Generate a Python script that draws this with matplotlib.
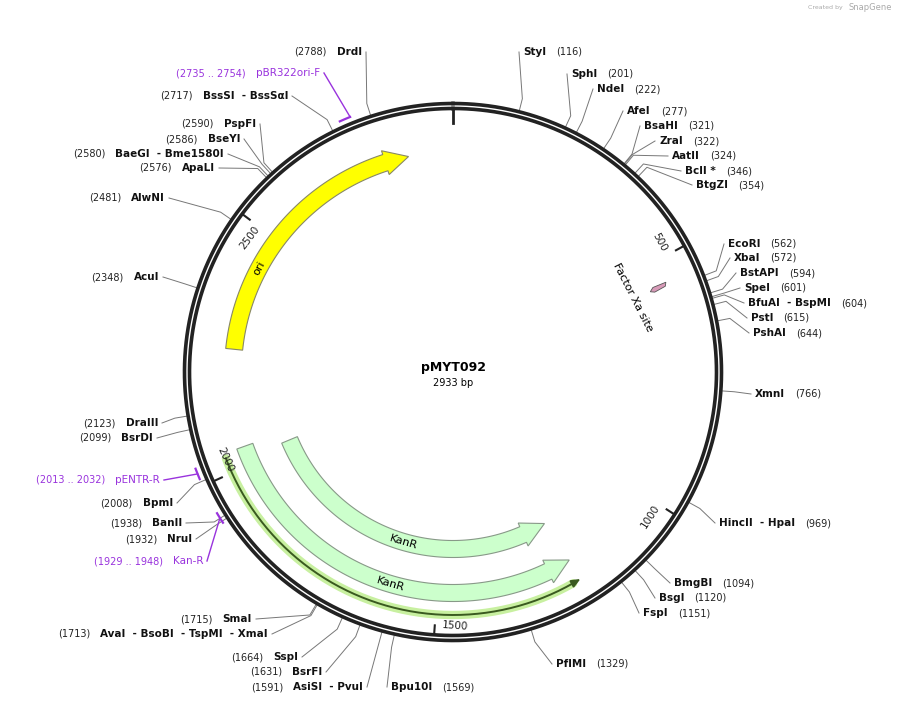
import numpy as np
import matplotlib
matplotlib.use("Agg")
import matplotlib.pyplot as plt
from matplotlib.patches import Polygon

TOTAL = 2933
name = "pMYT092"

# enzyme sites (name, position)
site_names = ["StyI","SphI","NdeI","AfeI","BsaHI","ZraI","AatII","BclI *","BtgZI",
              "EcoRI","XbaI","BstAPI","SpeI","BfuAI  - BspMI","PstI","PshAI","XmnI",
              "HincII  - HpaI","BmgBI","BsgI","FspI","PflMI","Bpu10I",
              "AsiSI  - PvuI","BsrFI","SspI","AvaI  - BsoBI  - TspMI  - XmaI","SmaI",
              "NruI","BanII","BpmI","BsrDI","DraIII","AcuI","AlwNI","ApaLI",
              "BaeGI  - Bme1580I","BseYI","PspFI","BssSI  - BssS\u03b1I","DrdI"]
site_pos = [116,201,222,277,321,322,324,346,354,562,572,594,601,604,615,644,766,
            969,1094,1120,1151,1329,1569,
            1591,1631,1664,1713,1715,1932,1938,2008,2099,2123,2348,2481,2576,
            2580,2586,2590,2717,2788]
# label layout (anchor x, y); right side: text start, left side: text end
label_xy = [(523,52),(571,74),(597,89),(627,111),(644,126),(659,141),(672,156),(685,171),(696,185),
            (728,244),(734,258),(740,273),(744,288),(748,303),(751,318),(753,333),(755,394),
            (719,523),(674,583),(659,598),(643,613),(556,664),(391,687),
            (363,687),(322,672),(298,657),(268,634),(252,619),
            (192,539),(182,523),(173,503),(153,438),(158,423),(159,277),(165,198),(215,168),
            (224,154),(240,139),(256,124),(288,96),(362,52)]

primer_names = ["pBR322ori-F","pENTR-R","Kan-R"]
primer_start = [2735,2013,1929]
primer_end = [2754,2032,1948]
primer_xy = [(320,73),(160,480),(203,561)]

ticks = [500,1000,1500,2000,2500]

CX, CY, R = 453, 372, 266

fig = plt.figure(figsize=(9.05,7.05), dpi=100)
ax = fig.add_axes([0,0,1,1])
ax.set_xlim(0,905); ax.set_ylim(705,0); ax.axis("off")

def ang(p):
    return 2*np.pi*p/TOTAL
def pt(p, r):
    a = ang(p)
    return CX + r*np.sin(a), CY - r*np.cos(a)

t = np.linspace(0, 2*np.pi, 720)
for rr in (R+2.5, R-2.5):
    ax.plot(CX+rr*np.sin(t), CY-rr*np.cos(t), color="#222222", lw=2.6, zorder=3)
x1,y1 = pt(0,R-4); x2,y2 = pt(0,R-17)
ax.plot([x1,x2],[y1,y2],color="#222222",lw=2,zorder=3)
for tk in ticks:
    x1,y1 = pt(tk,R-4); x2,y2 = pt(tk,R-12)
    ax.plot([x1,x2],[y1,y2],color="#222222",lw=1.5,zorder=3)
    a = np.degrees(ang(tk))
    rot = -a
    if 90 < a < 270: rot += 180
    tx,ty = pt(tk-28 if tk in (500,2500) else tk+28, R-22)
    if tk == 1500: tx,ty = pt(tk-38,R-12)
    ax.text(tx,ty,str(tk),rotation=rot,ha="center",va="center",fontsize=7.5,color="#222222",zorder=4)

def arc_arrow(p1, p2, rmid, w, head, fc, ec, forward=True):
    hw = w/2
    hl_bp = head/(rmid)/(2*np.pi)*TOTAL
    if forward:
        b1, b2 = p1, p2-hl_bp
        s = np.linspace(b1,b2,100)
        outer = [pt(q,rmid+hw) for q in s]
        inner = [pt(q,rmid-hw) for q in s[::-1]]
        headp = [pt(b2,rmid+hw+4), pt(p2,rmid), pt(b2,rmid-hw-4)]
        poly = outer + headp + inner
    else:
        b1, b2 = p1+hl_bp, p2
        s = np.linspace(b1,b2,100)
        outer = [pt(q,rmid+hw) for q in s]
        inner = [pt(q,rmid-hw) for q in s[::-1]]
        headp = [pt(b1,rmid-hw-4), pt(p1,rmid), pt(b1,rmid+hw+4)]
        poly = outer + inner + headp
    ax.add_patch(Polygon(poly, closed=True, fc=fc, ec=ec, lw=0.8, zorder=2))

arc_arrow(2248, 2838, 220, 17, 24, "#ffff00", "#888866", True)
tx,ty = pt(2430, 220)
ax.text(tx,ty,"ori",rotation=-np.degrees(ang(2430)),ha="center",va="center",fontsize=8,zorder=4)
arc_arrow(1213, 2016, 177, 17, 24, "#ccffcc", "#889988", False)
arc_arrow(1208, 2040, 221, 17, 24, "#ccffcc", "#889988", False)
for rr in (177, 221):
    tx,ty = pt(1600, rr)
    a = np.degrees(ang(1600))
    ax.text(tx,ty,"KanR",rotation=-a+180,ha="center",va="center",fontsize=8,zorder=4)
s = np.linspace(1225, 2030, 200)
xs = [pt(q,243)[0] for q in s]; ys = [pt(q,243)[1] for q in s]
ax.plot(xs, ys, color="#c8f0a0", lw=6, solid_capstyle="round", zorder=2)
ax.plot(xs, ys, color="#3a5a20", lw=1.4, zorder=2)
hp = [pt(1228,246.5), pt(1212,243), pt(1228,239.5)]
ax.add_patch(Polygon(hp, closed=True, fc="#3a5a20", ec="#3a5a20", zorder=2))

# Factor Xa site (tiny feature drawn radially)
fx = 553
a = ang(fx)
u = np.array([np.sin(a), -np.cos(a)])      # radial
v = np.array([np.cos(a), np.sin(a)])       # tangential
c0 = np.array(pt(fx, 0))
def P(r, d):
    return tuple(c0 + r*u + d*v)
poly = [P(213, 0), P(217, -3), P(231, -3), P(229, 0.5), P(217, 2)]
ax.add_patch(Polygon(poly, closed=True, fc="#d89ab8", ec="#555555", lw=0.6, zorder=2))
ax.text(633, 297, "Factor Xa site", rotation=-63, ha="center", va="center", fontsize=8, zorder=4)

ax.text(CX, 368, name, ha="center", va="center", fontsize=9, fontweight="bold")
ax.text(CX, 383, f"{TOTAL} bp", ha="center", va="center", fontsize=7)
ax.text(843, 8, "Created by", ha="right", va="center", fontsize=4.5, color="#aaaaaa")
ax.text(848, 8, "SnapGene", ha="left", va="center", fontsize=6, color="#aaaaaa")

fig.canvas.draw()
rend = fig.canvas.get_renderer()
def width(txt):
    return txt.get_window_extent(renderer=rend).width

def leader(p, lx, ly, right, color="#777777", r0=R+4):
    x0,y0 = pt(p, r0)
    x1,y1 = pt(p, r0+12)
    ex = lx-4 if right else lx+4
    ax.plot([x0,x1,ex],[y0,y1,ly],color=color,lw=0.7,zorder=1)

for nm, p, (lx,ly) in zip(site_names, site_pos, label_xy):
    right = p <= 1569
    if right:
        t1 = ax.text(lx, ly, nm, ha="left", va="center", fontsize=7.5, fontweight="bold", color="#111111")
        w = width(t1)
        ax.text(lx+w+10, ly, f"({p})", ha="left", va="center", fontsize=7, color="#222222")
    else:
        t1 = ax.text(lx, ly, nm, ha="right", va="center", fontsize=7.5, fontweight="bold", color="#111111")
        w = width(t1)
        ax.text(lx-w-10, ly, f"({p})", ha="right", va="center", fontsize=7, color="#222222")
    leader(p, lx, ly, right)

PURPLE = "#9933dd"
for nm, a, b, (lx,ly) in zip(primer_names, primer_start, primer_end, primer_xy):
    s = np.linspace(a, b, 10)
    xs = [pt(q,R+9)[0] for q in s]; ys = [pt(q,R+9)[1] for q in s]
    ax.plot(xs, ys, color=PURPLE, lw=1.6, zorder=3)
    m = (a+b)/2
    x0,y0 = pt(b if nm=="pBR322ori-F" else m, R+9)
    ax.plot([x0, lx+4], [y0, ly], color=PURPLE, lw=1, zorder=3)
    t1 = ax.text(lx, ly, nm, ha="right", va="center", fontsize=7.5, color=PURPLE)
    w = width(t1)
    ax.text(lx-w-10, ly, f"({a} .. {b})", ha="right", va="center", fontsize=7, color=PURPLE)

fig.savefig("out.png", dpi=100)
